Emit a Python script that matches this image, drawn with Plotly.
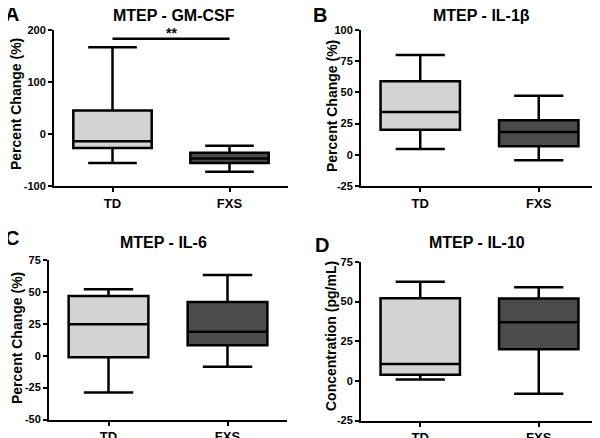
import plotly.graph_objects as go

groups = ["TD", "FXS"]
fills = ["#d3d3d3", "#4b4b4b"]

# Panel A: MTEP - GM-CSF (percent change)
a_low = [-56, -72.5]
a_q1 = [-27, -56]
a_med = [-14, -47]
a_q3 = [45, -36]
a_high = [167, -22.5]
a_ticks = [-100, 0, 100, 200]

# Panel B: MTEP - IL-1beta
b_low = [4.6, -4.4]
b_q1 = [20, 6.8]
b_med = [34.3, 18.3]
b_q3 = [58.9, 27.6]
b_high = [80, 47.4]
b_ticks = [-25, 0, 25, 50, 75, 100]

# Panel C: MTEP - IL-6
c_low = [-28.8, -8.7]
c_q1 = [-1.2, 8.1]
c_med = [24.6, 18.8]
c_q3 = [46.8, 42]
c_high = [52, 63.2]
c_ticks = [-50, -25, 0, 25, 50, 75]

# Panel D: MTEP - IL-10 (concentration)
d_low = [0.8, -8.2]
d_q1 = [3.8, 20]
d_med = [10.7, 37]
d_q3 = [52.1, 51.9]
d_high = [62.6, 59]
d_ticks = [-25, 0, 25, 50, 75]

panels = [
    ("A", "MTEP - GM-CSF", "Percent Change (%)", a_ticks, (a_low, a_q1, a_med, a_q3, a_high)),
    ("B", "MTEP - IL-1β", "Percent Change (%)", b_ticks, (b_low, b_q1, b_med, b_q3, b_high)),
    ("C", "MTEP - IL-6", "Percent Change (%)", c_ticks, (c_low, c_q1, c_med, c_q3, c_high)),
    ("D", "MTEP - IL-10", "Concentration (pg/mL)", d_ticks, (d_low, d_q1, d_med, d_q3, d_high)),
]

W, H = 600, 438
OFF = 8  # page body margin offset compensation
# pixel boxes in screen coords: (left, right, top, bottom)
boxes = [
    (54, 288, 30, 186),
    (361, 598, 30, 186),
    (49, 287, 260, 419.5),
    (361, 598, 262, 420.5),
]
title_pos = [(174, 15.5), (481, 15.5), (163, 242), (477, 242)]
letter_pos = [(12, 14), (320, 15), (12, 238), (322, 245)]
ytitle_pos = [(16, 104), (332, 106), (17, 338), (331, 336)]

FONT = "Liberation Sans, Arial, Helvetica, sans-serif"


def px(x):
    return (x - OFF) / W


def py(y):
    return 1 - (y - OFF) / H


fig = go.Figure()
layout = dict(
    width=W, height=H, margin=dict(l=0, r=0, t=0, b=0, autoexpand=False),
    paper_bgcolor="white", plot_bgcolor="white", showlegend=False,
    font=dict(family=FONT, color="black"),
)
annotations = []
shapes = []

for i, (letter, title, ytitle, yticks, stats) in enumerate(panels):
    n = i + 1
    xa = "x" if n == 1 else f"x{n}"
    ya = "y" if n == 1 else f"y{n}"
    low, q1, med, q3, high = stats
    for j, g in enumerate(groups):
        fig.add_trace(go.Box(
            x=[g], q1=[q1[j]], median=[med[j]], q3=[q3[j]],
            lowerfence=[low[j]], upperfence=[high[j]],
            fillcolor=fills[j], line=dict(color="black", width=2.5),
            width=0.67, whiskerwidth=0.62, boxpoints=False,
            xaxis=xa, yaxis=ya, hoverinfo="skip",
        ))
    l, r, t, b = boxes[i]
    layout[f"xaxis{'' if n == 1 else n}"] = dict(
        domain=[px(l), px(r)], anchor=ya, type="category",
        categoryorder="array", categoryarray=groups,
        range=[-0.5, 1.5], showline=True, linecolor="black", linewidth=2,
        ticks="outside", ticklen=4, tickwidth=2, tickcolor="black",
        showgrid=False, zeroline=False, fixedrange=True, automargin=False,
        tickfont=dict(family=FONT, size=13, weight="bold", color="black"),
    )
    layout[f"yaxis{'' if n == 1 else n}"] = dict(
        domain=[py(b), py(t)], anchor=xa,
        range=[yticks[0], yticks[-1]],
        tickmode="array", tickvals=yticks, ticktext=[str(v) for v in yticks],
        showline=True, linecolor="black", linewidth=2,
        ticks="outside", ticklen=4, tickwidth=2, tickcolor="black",
        showgrid=False, zeroline=False, fixedrange=True, automargin=False,
        tickfont=dict(family=FONT, size=11, weight="bold", color="black"),
    )
    yx, yy = ytitle_pos[i]
    annotations.append(dict(
        text=ytitle, x=px(yx), y=py(yy), xref="paper", yref="paper",
        xanchor="center", yanchor="middle", showarrow=False, textangle=-90,
        font=dict(family=FONT, size=14, weight="bold", color="black"),
    ))
    tx, ty = title_pos[i]
    annotations.append(dict(
        text=title, x=px(tx), y=py(ty), xref="paper", yref="paper",
        xanchor="center", yanchor="middle", showarrow=False,
        font=dict(family=FONT, size=16, weight="bold", color="black"),
    ))
    lx, ly = letter_pos[i]
    annotations.append(dict(
        text=letter, x=px(lx), y=py(ly), xref="paper", yref="paper",
        xanchor="center", yanchor="middle", showarrow=False,
        font=dict(family=FONT, size=20, weight="bold", color="black"),
    ))

# significance bar in panel A
sig_y = 183
shapes.append(dict(type="line", xref="x", yref="y", x0="TD", x1="FXS",
                   y0=sig_y, y1=sig_y, line=dict(color="black", width=2.5)))
annotations.append(dict(text="**", x=0.5, y=sig_y, xref="x", yref="y",
                        yanchor="bottom", showarrow=False, yshift=-4,
                        font=dict(family=FONT, size=14, weight="bold", color="black")))

layout["annotations"] = annotations
layout["shapes"] = shapes
fig.update_layout(**layout)
fig.write_html("out.html")
